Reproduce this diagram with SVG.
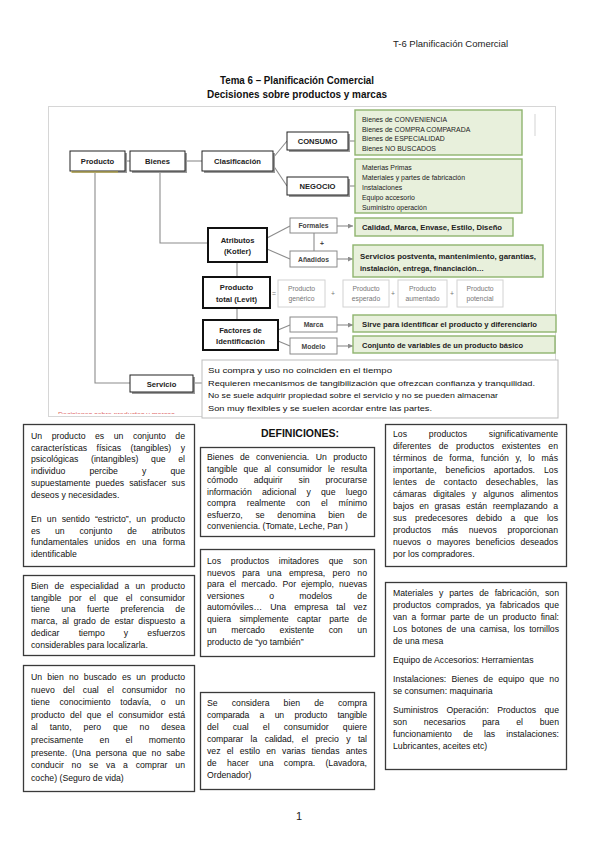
<svg xmlns="http://www.w3.org/2000/svg" width="599" height="848" viewBox="0 0 599 848">
<defs>
<style>
.t{font-family:"Liberation Sans",Arial,sans-serif;font-size:8.7px;fill:#111}
.hd{font-family:"Liberation Sans",Arial,sans-serif;font-size:9.5px;fill:#222}
.ti{font-family:"Liberation Sans",Arial,sans-serif;font-size:10.5px;font-weight:bold;fill:#111;text-anchor:middle}
.nb{font-family:"Liberation Sans",Arial,sans-serif;font-size:7.6px;font-weight:bold;fill:#222;text-anchor:middle}
.ns{font-family:"Liberation Sans",Arial,sans-serif;font-size:6.8px;font-weight:bold;fill:#444;text-anchor:middle}
.gt{font-family:"Liberation Sans",Arial,sans-serif;font-size:6.9px;fill:#222}
.gb{font-family:"Liberation Sans",Arial,sans-serif;font-size:7.2px;font-weight:bold;fill:#222}
.lv{font-family:"Liberation Sans",Arial,sans-serif;font-size:6.8px;fill:#777;text-anchor:middle}
.sv{font-family:"Liberation Sans",Arial,sans-serif;font-size:8px;fill:#111}
.box{fill:#fff;stroke:#222;stroke-width:1}
.thick{fill:#fff;stroke:#111;stroke-width:2}
.sbox{fill:#fff;stroke:#8a8a8a;stroke-width:1}
.green{fill:#e8f0dc;stroke:#8fb46e;stroke-width:1.4}
.lbox{fill:#fff;stroke:#d2d2d2;stroke-width:1}
.def{fill:#fff;stroke:#3a3a3a;stroke-width:1.3}
.ln{fill:none;stroke:#8c8c8c;stroke-width:1.1}
.shadow{fill:#9a9a9a}
</style>
<marker id="ar" markerWidth="5" markerHeight="5" refX="5" refY="2.5" orient="auto" markerUnits="userSpaceOnUse">
<path d="M0,0 L5,2.5 L0,5 z" fill="#8c8c8c"/>
</marker>
<clipPath id="frameclip"><rect x="48" y="106" width="508" height="308"/></clipPath>
</defs>

<rect x="0" y="0" width="599" height="848" fill="#fff"/>

<g id="header">
<text class="hd" x="393" y="47">T-6 Planificación Comercial</text>
<text class="ti" x="297" y="84" textLength="154" lengthAdjust="spacingAndGlyphs">Tema 6 – Planificación Comercial</text>
<text class="ti" x="297" y="98" textLength="180" lengthAdjust="spacingAndGlyphs">Decisiones sobre productos y marcas</text>
</g>

<g id="frame">
<rect x="48.5" y="106.5" width="507" height="310" fill="#fff" stroke="#d6d6d6" stroke-width="1"/>
<line x1="535" y1="114" x2="535" y2="136" stroke="#e2e2e2" stroke-width="1.5"/>
<text x="58" y="417" clip-path="url(#frameclip)" font-family="Liberation Sans, Arial, sans-serif" font-size="7px" fill="#e06a6a">Decisiones sobre productos y marcas</text>
</g>

<g id="connectors">
<path class="ln" d="M125,161 H130"/>
<path class="ln" d="M185,161 H202"/>
<path class="ln" d="M273,158 L287,141"/>
<path class="ln" d="M273,165 L287,186"/>
<path class="ln" d="M350,141 H355"/>
<path class="ln" d="M350,186 H355"/>
<path class="ln" d="M160,171 V243 H208"/>
<path class="ln" d="M267,238 L290,226"/>
<path class="ln" d="M267,249 L290,259"/>
<path class="ln" d="M337,226 H353" marker-end="url(#ar)"/>
<path class="ln" d="M337,259 H353" marker-end="url(#ar)"/>
<path class="ln" d="M314,251 V233"/>
<path class="ln" d="M237,262 V277"/>
<path class="ln" d="M237,308 V320"/>
<path class="ln" d="M278,330 L290,325"/>
<path class="ln" d="M278,341 L290,346"/>
<path class="ln" d="M337,325 H353" marker-end="url(#ar)"/>
<path class="ln" d="M337,346 H353" marker-end="url(#ar)"/>
<path class="ln" d="M95,171 V383 H130"/>
<path class="ln" d="M193,383 H202"/>
</g>

<g id="n-producto">
<rect class="shadow" x="72" y="153" width="55" height="20"/>
<rect class="box" x="70" y="151" width="55" height="20"/>
<line x1="71" y1="172" x2="118" y2="172" stroke="#c9b53a" stroke-width="1"/>
<text class="nb" x="97.5" y="164">Producto</text>
</g>
<g id="n-bienes">
<rect class="shadow" x="132" y="153" width="55" height="20"/>
<rect class="box" x="130" y="151" width="55" height="20"/>
<text class="nb" x="157.5" y="164">Bienes</text>
</g>
<g id="n-clasificacion">
<rect class="shadow" x="204" y="153" width="71" height="20"/>
<rect class="box" x="202" y="151" width="71" height="20"/>
<text class="nb" x="237.5" y="164">Clasificación</text>
</g>
<g id="n-consumo">
<rect class="shadow" x="289" y="134" width="61" height="18"/>
<rect class="box" x="287" y="132" width="61" height="18"/>
<text class="nb" x="317.5" y="144">CONSUMO</text>
</g>
<g id="n-negocio">
<rect class="shadow" x="289" y="179" width="61" height="18"/>
<rect class="box" x="287" y="177" width="61" height="18"/>
<text class="nb" x="317.5" y="189">NEGOCIO</text>
</g>
<g id="n-consumo-list">
<rect class="green" x="355" y="110" width="167" height="45"/>
<text class="gt" x="362" y="122">Bienes de CONVENIENCIA</text>
<text class="gt" x="362" y="131.5">Bienes de COMPRA COMPARADA</text>
<text class="gt" x="362" y="141">Bienes de ESPECIALIDAD</text>
<text class="gt" x="362" y="150.5">Bienes NO BUSCADOS</text>
</g>
<g id="n-negocio-list">
<rect class="green" x="355" y="159" width="167" height="54"/>
<text class="gt" x="362" y="170">Materias Primas</text>
<text class="gt" x="362" y="180">Materiales y partes de fabricación</text>
<text class="gt" x="362" y="190">Instalaciones</text>
<text class="gt" x="362" y="200">Equipo accesorio</text>
<text class="gt" x="362" y="210">Suministro operación</text>
</g>
<g id="n-atributos">
<rect class="thick" x="208" y="228" width="59" height="34"/>
<text class="nb" x="237.5" y="243">Atributos</text>
<text class="nb" x="237.5" y="254">(Kotler)</text>
</g>
<g id="n-formales">
<rect class="sbox" x="290" y="218" width="47" height="15"/>
<text class="ns" x="313.5" y="228">Formales</text>
</g>
<g id="n-anadidos">
<rect class="sbox" x="290" y="251" width="47" height="16"/>
<text class="ns" x="313.5" y="261.5">Añadidos</text>
</g>
<g id="plus-attr"><text class="ns" x="322" y="246">+</text></g>
<g id="n-formales-desc">
<rect class="green" x="355" y="218" width="158" height="18"/>
<text class="gb" x="362" y="230" textLength="140" lengthAdjust="spacingAndGlyphs">Calidad, Marca, Envase, Estilo, Diseño</text>
</g>
<g id="n-anadidos-desc">
<rect class="green" x="353" y="245" width="190" height="32"/>
<text class="gb" x="360" y="258.5" textLength="176" lengthAdjust="spacingAndGlyphs">Servicios postventa, mantenimiento, garantías,</text>
<text class="gb" x="360" y="270.5" textLength="124" lengthAdjust="spacingAndGlyphs">instalación, entrega, financiación…</text>
</g>
<g id="n-producto-total">
<rect class="thick" x="203" y="277" width="67" height="31"/>
<text class="nb" x="236.5" y="290">Producto</text>
<text class="nb" x="236.5" y="302">total (Levit)</text>
</g>
<g id="levit-eq"><text class="lv" x="274" y="296">=</text></g>
<g id="n-generico">
<rect class="lbox" x="278" y="280" width="47" height="27"/>
<text class="lv" x="301.5" y="291">Producto</text>
<text class="lv" x="301.5" y="301">genérico</text>
</g>
<g id="plus1"><text class="lv" x="333" y="296">+</text></g>
<g id="n-esperado">
<rect class="lbox" x="343" y="280" width="46" height="27"/>
<text class="lv" x="366" y="291">Producto</text>
<text class="lv" x="366" y="301">esperado</text>
</g>
<g id="plus2"><text class="lv" x="393" y="296">+</text></g>
<g id="n-aumentado">
<rect class="lbox" x="398" y="280" width="49" height="27"/>
<text class="lv" x="422.5" y="291">Producto</text>
<text class="lv" x="422.5" y="301">aumentado</text>
</g>
<g id="plus3"><text class="lv" x="452" y="296">+</text></g>
<g id="n-potencial">
<rect class="lbox" x="457" y="280" width="46" height="27"/>
<text class="lv" x="480" y="291">Producto</text>
<text class="lv" x="480" y="301">potencial</text>
</g>
<g id="n-factores">
<rect class="thick" x="203" y="320" width="75" height="30"/>
<text class="nb" x="240.5" y="333" font-weight="normal">Factores de</text>
<text class="nb" x="240.5" y="344" font-weight="normal">Identificación</text>
</g>
<g id="n-marca">
<rect class="sbox" x="290" y="317" width="47" height="15"/>
<text class="ns" x="313.5" y="327">Marca</text>
</g>
<g id="n-modelo">
<rect class="sbox" x="290" y="338" width="47" height="16"/>
<text class="ns" x="313.5" y="348.5">Modelo</text>
</g>
<g id="n-marca-desc">
<rect class="green" x="353" y="315" width="203" height="17"/>
<text class="gb" x="362" y="326.5" textLength="175" lengthAdjust="spacingAndGlyphs">Sirve para identificar el producto y diferenciarlo</text>
</g>
<g id="n-modelo-desc">
<rect class="green" x="353" y="336" width="202" height="17"/>
<text class="gb" x="362" y="347.5" textLength="161" lengthAdjust="spacingAndGlyphs">Conjunto de variables de un producto básico</text>
</g>
<g id="n-servicio">
<rect class="shadow" x="132" y="377" width="63" height="17"/>
<rect class="box" x="130" y="375" width="63" height="17"/>
<text class="nb" x="161.5" y="386.5" font-weight="normal">Servicio</text>
</g>
<g id="n-servicio-desc">
<rect x="202" y="360" width="356" height="58" fill="#fff" stroke="#bdbdbd" stroke-width="1"/>
<text class="sv" x="208" y="372.5" textLength="184" lengthAdjust="spacingAndGlyphs">Su compra y uso no coinciden en el tiempo</text>
<text class="sv" x="208" y="385.5" textLength="327" lengthAdjust="spacingAndGlyphs">Requieren mecanismos de tangibilización que ofrezcan confianza y tranquilidad.</text>
<text class="sv" x="208" y="398" textLength="290" lengthAdjust="spacingAndGlyphs">No se suele adquirir propiedad sobre el servicio y no se pueden almacenar</text>
<text class="sv" x="208" y="410.5" textLength="224" lengthAdjust="spacingAndGlyphs">Son muy flexibles y se suelen acordar entre las partes.</text>
</g>

<g id="def-title"><text class="ti" x="300" y="437" font-size="11px">DEFINICIONES:</text></g>

<g id="box-producto">
<rect class="def" x="23.5" y="424.5" width="171" height="142"/>
<text class="t" x="31" y="439" style="word-spacing:7.1px" textLength="154" lengthAdjust="spacing">Un producto es un conjunto de</text>
<text class="t" x="31" y="450.7" style="word-spacing:7px" textLength="154" lengthAdjust="spacing">características físicas (tangibles) y</text>
<text class="t" x="31" y="462.4" style="word-spacing:10.2px" textLength="154" lengthAdjust="spacing">psicológicas (intangibles) que el</text>
<text class="t" x="31" y="474.1" style="word-spacing:21.7px" textLength="154" lengthAdjust="spacing">individuo percibe y que</text>
<text class="t" x="31" y="485.8" style="word-spacing:2.7px" textLength="154" lengthAdjust="spacing">supuestamente puedes satisfacer sus</text>
<text class="t" x="31" y="497.5">deseos y necesidades.</text>
<text class="t" x="31" y="522" style="word-spacing:2.8px" textLength="154" lengthAdjust="spacing">En un sentido “estricto”, un producto</text>
<text class="t" x="31" y="533.7" style="word-spacing:12.4px" textLength="154" lengthAdjust="spacing">es un conjunto de atributos</text>
<text class="t" x="31" y="545.4" style="word-spacing:3.8px" textLength="154" lengthAdjust="spacing">fundamentales unidos en una forma</text>
<text class="t" x="31" y="557.1">identificable</text>
</g>

<g id="box-especialidad">
<rect class="def" x="23.5" y="575.5" width="171" height="80"/>
<text class="t" x="31" y="589" style="word-spacing:3.6px" textLength="154" lengthAdjust="spacing">Bien de especialidad a un producto</text>
<text class="t" x="31" y="600.7" style="word-spacing:5.2px" textLength="154" lengthAdjust="spacing">tangible por el que el consumidor</text>
<text class="t" x="31" y="612.4" style="word-spacing:8.9px" textLength="154" lengthAdjust="spacing">tiene una fuerte preferencia de</text>
<text class="t" x="31" y="624.1" style="word-spacing:2.1px" textLength="154" lengthAdjust="spacing">marca, al grado de estar dispuesto a</text>
<text class="t" x="31" y="635.8" style="word-spacing:16.7px" textLength="154" lengthAdjust="spacing">dedicar tiempo y esfuerzos</text>
<text class="t" x="31" y="648">considerables para localizarla.</text>
</g>

<g id="box-no-buscado">
<rect class="def" x="23.5" y="665.5" width="171" height="126"/>
<text class="t" x="31" y="680" style="word-spacing:2.8px" textLength="154" lengthAdjust="spacing">Un bien no buscado es un producto</text>
<text class="t" x="31" y="692.6" style="word-spacing:5.8px" textLength="154" lengthAdjust="spacing">nuevo del cual el consumidor no</text>
<text class="t" x="31" y="705.2" style="word-spacing:7.2px" textLength="154" lengthAdjust="spacing">tiene conocimiento todavía, o un</text>
<text class="t" x="31" y="717.8" style="word-spacing:2.8px" textLength="154" lengthAdjust="spacing">producto del que el consumidor está</text>
<text class="t" x="31" y="730.4" style="word-spacing:9.6px" textLength="154" lengthAdjust="spacing">al tanto, pero que no desea</text>
<text class="t" x="31" y="743" style="word-spacing:13.9px" textLength="154" lengthAdjust="spacing">precisamente en el momento</text>
<text class="t" x="31" y="755.6" style="word-spacing:2.6px" textLength="154" lengthAdjust="spacing">presente. (Una persona que no sabe</text>
<text class="t" x="31" y="768.2" style="word-spacing:5.4px" textLength="154" lengthAdjust="spacing">conducir no se va a comprar un</text>
<text class="t" x="31" y="780.8">coche) (Seguro de vida)</text>
</g>

<g id="box-conveniencia">
<rect class="def" x="200.5" y="447.5" width="174" height="89"/>
<text class="t" x="207" y="460" style="word-spacing:4px" textLength="160" lengthAdjust="spacing">Bienes de conveniencia. Un producto</text>
<text class="t" x="207" y="471.5" style="word-spacing:3.7px" textLength="160" lengthAdjust="spacing">tangible que al consumidor le resulta</text>
<text class="t" x="207" y="483" style="word-spacing:13.5px" textLength="160" lengthAdjust="spacing">cómodo adquirir sin procurarse</text>
<text class="t" x="207" y="494.5" style="word-spacing:7.9px" textLength="160" lengthAdjust="spacing">información adicional y que luego</text>
<text class="t" x="207" y="506" style="word-spacing:8.5px" textLength="160" lengthAdjust="spacing">compra realmente con el mínimo</text>
<text class="t" x="207" y="517.5" style="word-spacing:10.3px" textLength="160" lengthAdjust="spacing">esfuerzo, se denomina bien de</text>
<text class="t" x="207" y="529">conveniencia. (Tomate, Leche, Pan )</text>
</g>

<g id="box-imitadores">
<rect class="def" x="200.5" y="549.5" width="174" height="107"/>
<text class="t" x="207" y="564" style="word-spacing:7.4px" textLength="160" lengthAdjust="spacing">Los productos imitadores que son</text>
<text class="t" x="207" y="575.5" style="word-spacing:4.9px" textLength="160" lengthAdjust="spacing">nuevos para una empresa, pero no</text>
<text class="t" x="207" y="587" style="word-spacing:2.6px" textLength="160" lengthAdjust="spacing">para el mercado. Por ejemplo, nuevas</text>
<text class="t" x="207" y="598.5" style="word-spacing:22.7px" textLength="160" lengthAdjust="spacing">versiones o modelos de</text>
<text class="t" x="207" y="610" style="word-spacing:5.7px" textLength="160" lengthAdjust="spacing">automóviles… Una empresa tal vez</text>
<text class="t" x="207" y="621.5" style="word-spacing:5.8px" textLength="160" lengthAdjust="spacing">quiera simplemente captar parte de</text>
<text class="t" x="207" y="633" style="word-spacing:12.3px" textLength="160" lengthAdjust="spacing">un mercado existente con un</text>
<text class="t" x="207" y="644.5">producto de “yo también”</text>
</g>

<g id="box-compra-comparada">
<rect class="def" x="200.5" y="692.5" width="174" height="97"/>
<text class="t" x="207" y="706" style="word-spacing:11.7px" textLength="160" lengthAdjust="spacing">Se considera bien de compra</text>
<text class="t" x="207" y="718" style="word-spacing:8.1px" textLength="160" lengthAdjust="spacing">comparada a un producto tangible</text>
<text class="t" x="207" y="730" style="word-spacing:11.7px" textLength="160" lengthAdjust="spacing">del cual el consumidor quiere</text>
<text class="t" x="207" y="742" style="word-spacing:5.2px" textLength="160" lengthAdjust="spacing">comparar la calidad, el precio y tal</text>
<text class="t" x="207" y="754" style="word-spacing:3.8px" textLength="160" lengthAdjust="spacing">vez el estilo en varias tiendas antes</text>
<text class="t" x="207" y="766" style="word-spacing:7.9px" textLength="160" lengthAdjust="spacing">de hacer una compra. (Lavadora,</text>
<text class="t" x="207" y="778">Ordenador)</text>
</g>

<g id="box-nuevos">
<rect class="def" x="385.5" y="424.5" width="181" height="142"/>
<text class="t" x="393" y="437" style="word-spacing:19.4px" textLength="165" lengthAdjust="spacing">Los productos significativamente</text>
<text class="t" x="393" y="449" style="word-spacing:5.3px" textLength="165" lengthAdjust="spacing">diferentes de productos existentes en</text>
<text class="t" x="393" y="461" style="word-spacing:4.1px" textLength="165" lengthAdjust="spacing">términos de forma, función y, lo más</text>
<text class="t" x="393" y="473" style="word-spacing:6.6px" textLength="165" lengthAdjust="spacing">importante, beneficios aportados. Los</text>
<text class="t" x="393" y="485" style="word-spacing:5.9px" textLength="165" lengthAdjust="spacing">lentes de contacto desechables, las</text>
<text class="t" x="393" y="497" style="word-spacing:4.5px" textLength="165" lengthAdjust="spacing">cámaras digitales y algunos alimentos</text>
<text class="t" x="393" y="509" style="word-spacing:3.1px" textLength="165" lengthAdjust="spacing">bajos en grasas están reemplazando a</text>
<text class="t" x="393" y="521" style="word-spacing:6.1px" textLength="165" lengthAdjust="spacing">sus predecesores debido a que los</text>
<text class="t" x="393" y="533" style="word-spacing:8.3px" textLength="165" lengthAdjust="spacing">productos más nuevos proporcionan</text>
<text class="t" x="393" y="545" style="word-spacing:3.2px" textLength="165" lengthAdjust="spacing">nuevos o mayores beneficios deseados</text>
<text class="t" x="393" y="557">por los compradores.</text>
</g>

<g id="box-negocio">
<rect class="def" x="385.5" y="582.5" width="181" height="187"/>
<text class="t" x="393" y="596" style="word-spacing:3.4px" textLength="166" lengthAdjust="spacing">Materiales y partes de fabricación, son</text>
<text class="t" x="393" y="608" style="word-spacing:2.3px" textLength="166" lengthAdjust="spacing">productos comprados, ya fabricados que</text>
<text class="t" x="393" y="620" style="word-spacing:2px" textLength="166" lengthAdjust="spacing">van a formar parte de un producto final:</text>
<text class="t" x="393" y="632" style="word-spacing:2px" textLength="166" lengthAdjust="spacing">Los botones de una camisa, los tornillos</text>
<text class="t" x="393" y="644">de una mesa</text>
<text class="t" x="393" y="663">Equipo de Accesorios: Herramientas</text>
<text class="t" x="393" y="682" style="word-spacing:2.8px" textLength="166" lengthAdjust="spacing">Instalaciones: Bienes de equipo que no</text>
<text class="t" x="393" y="694">se consumen: maquinaria</text>
<text class="t" x="393" y="713" style="word-spacing:6px" textLength="166" lengthAdjust="spacing">Suministros Operación: Productos que</text>
<text class="t" x="393" y="725" style="word-spacing:14.3px" textLength="166" lengthAdjust="spacing">son necesarios para el buen</text>
<text class="t" x="393" y="737" style="word-spacing:8.8px" textLength="166" lengthAdjust="spacing">funcionamiento de las instalaciones:</text>
<text class="t" x="393" y="749">Lubricantes, aceites etc)</text>
</g>

<g id="page-number"><text x="299" y="820" text-anchor="middle" font-family="Liberation Sans, Arial, sans-serif" font-size="11px" fill="#222">1</text></g>
</svg>
